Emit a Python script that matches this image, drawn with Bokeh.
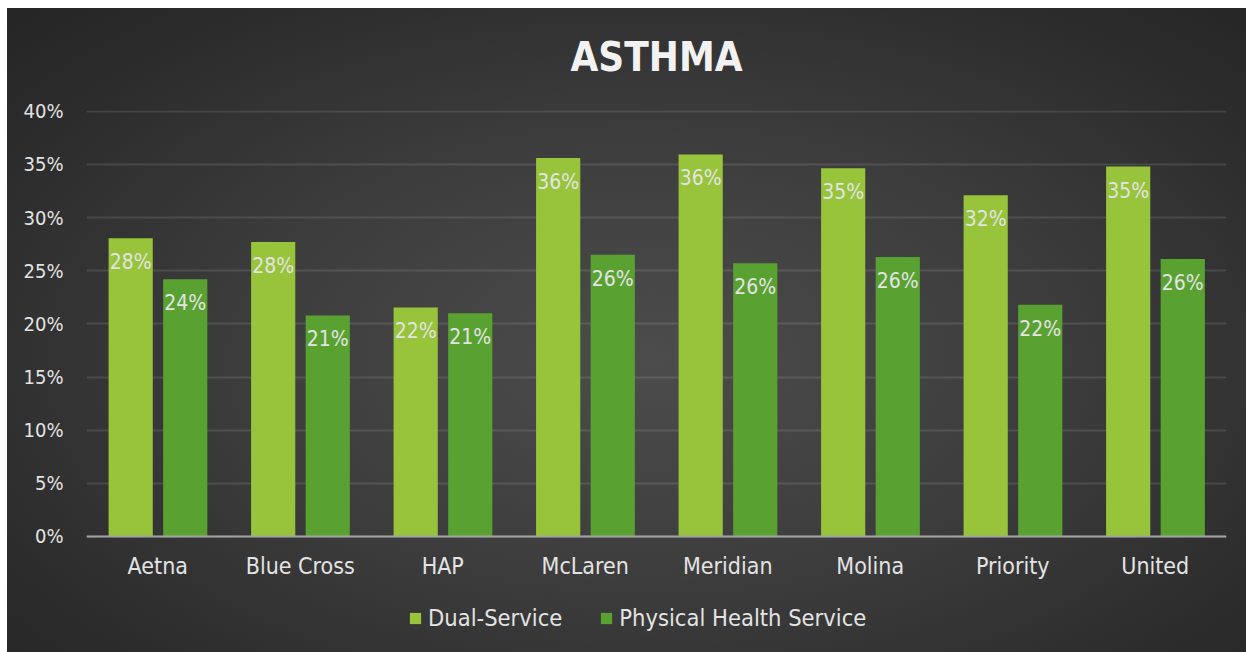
from bokeh.plotting import figure
from bokeh.models import ColumnDataSource, FactorRange, Range1d, NumeralTickFormatter, Legend, LegendItem
from bokeh.transform import dodge
from bokeh.core.properties import value
from bokeh.embed import file_html
from bokeh.resources import INLINE

# ---- data ----
title_text = "ASTHMA"
categories = ["Aetna", "Blue Cross", "HAP", "McLaren", "Meridian", "Molina", "Priority", "United"]
series_names = ["Dual-Service", "Physical Health Service"]
dual_service = [0.2805, 0.277, 0.2155, 0.356, 0.3595, 0.3465, 0.321, 0.348]
physical_health = [0.242, 0.208, 0.210, 0.265, 0.257, 0.263, 0.218, 0.261]
y_ticks = [0, 0.05, 0.10, 0.15, 0.20, 0.25, 0.30, 0.35, 0.40]

FONT = "DejaVu Sans Condensed"
TXT = "#e3e3e3"
DUAL_C = "#97c43a"
PHYS_C = "#59a232"

src = ColumnDataSource(dict(
    cat=categories,
    dual=dual_service,
    phys=physical_health,
    dual_lbl=[f"{round(v * 100)}%" for v in dual_service],
    phys_lbl=[f"{round(v * 100)}%" for v in physical_health],
))

# frame spans from the 40% line down to the bottom of the chart box;
# the x axis is pinned at y = 0 and the legend sits in the strip below it
p = figure(
    x_range=FactorRange(*categories, range_padding=0),
    y_range=Range1d(-0.1092, 0.4008),
    width=1246, height=652,
    output_backend="svg", toolbar_location=None,
    min_border_left=86, min_border_right=20, min_border_top=110, min_border_bottom=0,
)
p.styles = {
    "background": (
        "linear-gradient(#ffffff, #ffffff) left top / 100% 8px no-repeat, "
        "linear-gradient(#ffffff, #ffffff) left top / 7px 100% no-repeat, "
        "radial-gradient(ellipse 70% 75% at 52% 55%, #4c4c4c 0%, #3d3d3d 45%, #2b2b2b 85%, #262626 100%)"
    ),
}
p.border_fill_alpha = 0
p.background_fill_alpha = 0
p.outline_line_color = None

# title
p.title.text = title_text
p.title.align = "center"
p.title.text_font = FONT
p.title.text_font_size = "40px"
p.title.text_font_style = "bold"
p.title.text_color = "#f2f2f2"
p.title.standoff = 62

bw = 0.31
r1 = p.vbar(x=dodge("cat", -0.19, range=p.x_range), top="dual", bottom=0, width=bw, source=src,
            fill_color=DUAL_C, line_color=None)
r2 = p.vbar(x=dodge("cat", 0.193, range=p.x_range), top="phys", bottom=0, width=bw, source=src,
            fill_color=PHYS_C, line_color=None)

for col, off in (("dual", -0.19), ("phys", 0.193)):
    p.text(x=dodge("cat", off, range=p.x_range), y=col, text=col + "_lbl", source=src,
           text_align="center", text_baseline="middle", y_offset=24,
           text_font=value(FONT), text_font_size="21px", text_color=TXT)

# axes
p.yaxis.ticker = y_ticks
p.yaxis.formatter = NumeralTickFormatter(format="0%")
p.yaxis.axis_line_color = None
p.yaxis.major_tick_line_color = None
p.yaxis.minor_tick_line_color = None
p.yaxis.major_tick_out = 0
p.yaxis.major_label_text_font = FONT
p.yaxis.major_label_text_font_size = "20px"
p.yaxis.major_label_text_color = TXT
p.yaxis.major_label_standoff = 23

p.xaxis.fixed_location = 0
p.xaxis.axis_line_color = "#a3a3a3"
p.xaxis.axis_line_width = 2
p.xaxis.major_tick_line_color = None
p.xaxis.minor_tick_line_color = None
p.xaxis.major_tick_out = 0
p.xaxis.major_label_text_font = FONT
p.xaxis.major_label_text_font_size = "23px"
p.xaxis.major_label_text_color = TXT
p.xaxis.major_label_standoff = 17

p.xgrid.grid_line_color = None
p.ygrid.ticker = y_ticks
p.ygrid.grid_line_color = "#ffffff"
p.ygrid.grid_line_alpha = 0.11
p.ygrid.grid_line_width = 2

legend = Legend(
    items=[LegendItem(label=series_names[0], renderers=[r1]),
           LegendItem(label=series_names[1], renderers=[r2])],
    orientation="horizontal", location=(322, 20),
    background_fill_alpha=0, border_line_color=None,
    padding=0, margin=0, spacing=37,
    glyph_width=14, glyph_height=14, label_standoff=6,
    label_text_font=FONT, label_text_font_size="23.5px", label_text_color=TXT,
)
p.add_layout(legend, "center")

open("out.html", "w").write(file_html(p, INLINE))
